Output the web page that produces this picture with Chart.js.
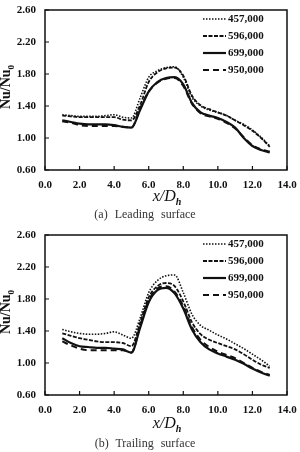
<!DOCTYPE html>
<html>
<head>
<meta charset="utf-8">
<script src="https://cdn.jsdelivr.net/npm/chart.js@4.4.0/dist/chart.umd.min.js"></script>
<style>
  body { margin: 0; background: #fff; }
  #wrap { position: relative; width: 300px; height: 452px; overflow: hidden; font-family: 'Liberation Serif', 'DejaVu Serif', serif; color: #111; }
  canvas { position: absolute; left: 0; }
  .ytitle { position: absolute; font-weight: bold; font-size: 14px; white-space: nowrap; transform: translate(-50%, -50%) rotate(-90deg); }
  .ytitle sub { font-size: 9px; }
  .xtitle { position: absolute; font-style: italic; font-size: 16px; white-space: nowrap; transform: translate(-50%, -50%); }
  .xtitle sub { font-size: 10px; font-weight: bold; }
  .caption { position: absolute; font-size: 12px; color: #333; word-spacing: 4px; white-space: nowrap; transform: translate(-50%, -50%); }
</style>
</head>
<body>
<div id="wrap">
  <canvas id="leading" width="300" height="225" style="top:0"></canvas>
  <canvas id="trailing" width="300" height="227" style="top:225px"></canvas>

  <div class="ytitle" style="left:7px; top:87px">Nu/Nu<sub>0</sub></div>
  <div class="xtitle" style="left:167px; top:197px">x/D<sub>h</sub></div>
  <div class="caption" style="left:145px; top:214px">(a) Leading surface</div>

  <div class="ytitle" style="left:7px; top:312px">Nu/Nu<sub>0</sub></div>
  <div class="xtitle" style="left:167px; top:424px">x/D<sub>h</sub></div>
  <div class="caption" style="left:145px; top:443px">(b) Trailing surface</div>
</div>

<script>
// x positions (x/Dh) shared by all curves
const xVals = [1, 1.5, 2, 2.5, 3, 3.5, 4, 4.5, 5, 5.5, 6, 6.5, 7, 7.5, 8, 8.5, 9, 9.5, 10, 10.5, 11, 11.5, 12, 12.5, 13];

const seriesLabels = ['457,000', '596,000', '699,000', '950,000'];

// (a) Leading surface
const lead457 = [1.29, 1.28, 1.27, 1.27, 1.27, 1.28, 1.29, 1.26, 1.25, 1.50, 1.76, 1.84, 1.88, 1.89, 1.76, 1.51, 1.40, 1.35, 1.32, 1.28, 1.22, 1.17, 1.10, 1.01, 0.90];
const lead596 = [1.28, 1.27, 1.26, 1.26, 1.26, 1.26, 1.26, 1.23, 1.22, 1.41, 1.70, 1.82, 1.87, 1.88, 1.78, 1.53, 1.41, 1.36, 1.32, 1.28, 1.22, 1.16, 1.09, 1.00, 0.89];
const lead699 = [1.22, 1.20, 1.18, 1.17, 1.17, 1.17, 1.16, 1.14, 1.13, 1.35, 1.58, 1.70, 1.75, 1.76, 1.67, 1.44, 1.32, 1.28, 1.25, 1.20, 1.13, 1.00, 0.90, 0.85, 0.82];
const lead950 = [1.21, 1.19, 1.16, 1.15, 1.15, 1.15, 1.15, 1.14, 1.13, 1.37, 1.58, 1.69, 1.74, 1.75, 1.65, 1.43, 1.31, 1.27, 1.24, 1.19, 1.12, 1.01, 0.91, 0.86, 0.83];

// (b) Trailing surface
const trail457 = [1.42, 1.39, 1.37, 1.36, 1.36, 1.37, 1.39, 1.35, 1.31, 1.56, 1.88, 2.03, 2.09, 2.10, 1.88, 1.61, 1.47, 1.41, 1.35, 1.30, 1.24, 1.18, 1.11, 1.04, 0.96];
const trail596 = [1.37, 1.34, 1.31, 1.29, 1.27, 1.26, 1.26, 1.25, 1.21, 1.50, 1.82, 1.96, 2.00, 1.96, 1.77, 1.51, 1.36, 1.29, 1.25, 1.21, 1.17, 1.11, 1.04, 0.98, 0.94];
const trail699 = [1.31, 1.25, 1.21, 1.20, 1.19, 1.19, 1.18, 1.17, 1.13, 1.44, 1.76, 1.91, 1.94, 1.87, 1.68, 1.42, 1.26, 1.17, 1.12, 1.08, 1.04, 0.99, 0.93, 0.88, 0.84];
const trail950 = [1.27, 1.22, 1.18, 1.16, 1.16, 1.16, 1.16, 1.16, 1.13, 1.46, 1.78, 1.93, 1.96, 1.89, 1.71, 1.45, 1.29, 1.20, 1.14, 1.10, 1.06, 1.00, 0.94, 0.89, 0.85];

// axis ticks
const xTicks = [0, 2, 4, 6, 8, 10, 12, 14];
const yTicks = [0.6, 1.0, 1.4, 1.8, 2.2, 2.6];

// line look per series
const lineStyles = [
    { dash: [1.5, 1.5], width: 1.6 },  // dotted
    { dash: [4, 1.5], width: 1.8 },    // short dash
    { dash: [], width: 2.2 },          // solid
    { dash: [6, 4], width: 2.0 }       // long dash
];

const FONT = "'Liberation Serif', 'DejaVu Serif', serif";
Chart.defaults.font.family = FONT;
Chart.defaults.color = '#111';

// frame, inward ticks and legend inside the plot
const framePlugin = {
    id: 'frame',
    afterDraw(chart) {
        const ctx = chart.ctx;
        const a = chart.chartArea;
        const xs = chart.scales.x, ys = chart.scales.y;
        ctx.save();
        ctx.strokeStyle = '#111';
        ctx.lineWidth = 1.5;
        ctx.setLineDash([]);
        ctx.strokeRect(a.left, a.top, a.right - a.left, a.bottom - a.top);

        ctx.lineWidth = 1.2;
        ctx.beginPath();
        xTicks.forEach(v => {
            const px = xs.getPixelForValue(v);
            ctx.moveTo(px, a.bottom);
            ctx.lineTo(px, a.bottom - 4);
        });
        yTicks.forEach(v => {
            const py = ys.getPixelForValue(v);
            ctx.moveTo(a.left, py);
            ctx.lineTo(a.left + 4, py);
        });
        ctx.stroke();

        // legend
        ctx.font = 'bold 11px ' + FONT;
        ctx.textBaseline = 'middle';
        ctx.fillStyle = '#111';
        chart.data.datasets.forEach((ds, i) => {
            const y = a.top + 9 + i * 17;
            ctx.beginPath();
            ctx.setLineDash(lineStyles[i].dash);
            ctx.lineWidth = lineStyles[i].width;
            ctx.moveTo(203, y);
            ctx.lineTo(226, y);
            ctx.stroke();
            ctx.fillText(ds.label, 228, y);
        });
        ctx.restore();
    }
};

function makeChart(canvasId, series) {
    const canvas = document.getElementById(canvasId);
    const datasets = series.map((vals, i) => ({
        label: seriesLabels[i],
        data: vals.map((v, k) => ({ x: xVals[k], y: v })),
        borderColor: '#111',
        borderWidth: lineStyles[i].width,
        borderDash: lineStyles[i].dash,
        pointRadius: 0,
        fill: false,
        cubicInterpolationMode: 'monotone'
    }));

    return new Chart(canvas, {
        type: 'line',
        data: { datasets },
        options: {
            responsive: false,
            animation: false,
            layout: { padding: { top: 10, right: 13, left: 0, bottom: 0 } },
            plugins: {
                legend: { display: false },
                tooltip: { enabled: false }
            },
            scales: {
                x: {
                    type: 'linear',
                    min: 0,
                    max: 14,
                    afterBuildTicks: s => { s.ticks = xTicks.map(v => ({ value: v })); },
                    afterFit: s => {
                        s.height = canvas.height - 170;
                        s.paddingLeft = 0;
                        s.paddingRight = 0;
                    },
                    grid: { display: false, drawTicks: false },
                    border: { display: false },
                    ticks: {
                        padding: 9,
                        maxRotation: 0,
                        font: { size: 11, weight: 'bold' },
                        callback: v => Number(v).toFixed(1)
                    }
                },
                y: {
                    min: 0.6,
                    max: 2.6,
                    afterBuildTicks: s => { s.ticks = yTicks.map(v => ({ value: v })); },
                    afterFit: s => {
                        s.width = 45;
                        s.paddingTop = 0;
                        s.paddingBottom = 0;
                    },
                    grid: { display: false, drawTicks: false },
                    border: { display: false },
                    ticks: {
                        padding: 9,
                        font: { size: 11, weight: 'bold' },
                        callback: v => Number(v).toFixed(2)
                    }
                }
            }
        },
        plugins: [framePlugin]
    });
}

makeChart('leading', [lead457, lead596, lead699, lead950]);
makeChart('trailing', [trail457, trail596, trail699, trail950]);
</script>
</body>
</html>
